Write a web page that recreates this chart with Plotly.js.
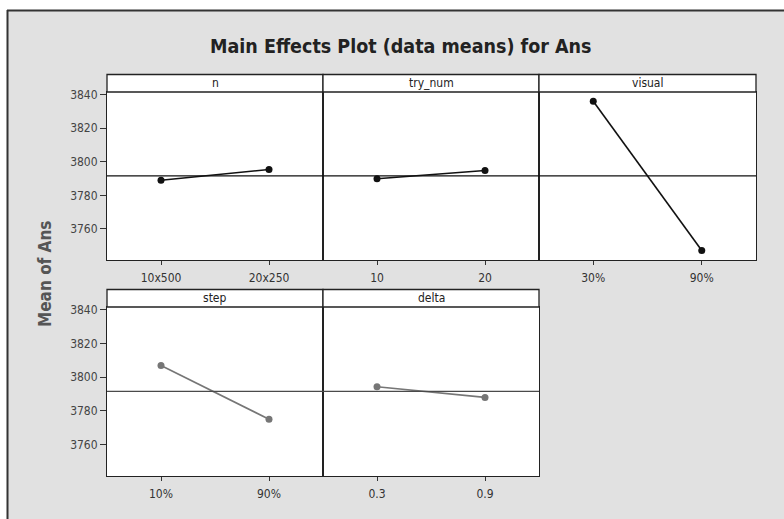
<!DOCTYPE html>
<html><head><meta charset="utf-8">
<script src="https://cdn.plot.ly/plotly-3.0.1.min.js"></script>
<style>html,body{margin:0;padding:0;background:#fff}#chart{width:784px;height:519px}</style>
</head><body><div id="chart"></div>
<script>
// ---- data ----
const chartTitle = 'Main Effects Plot (data means) for Ans';
const yTitle = 'Mean of Ans';
const factors = ['n', 'try_num', 'visual', 'step', 'delta'];
const levels = [['10x500', '20x250'], ['10', '20'], ['30%', '90%'], ['10%', '90%'], ['0.3', '0.9']];
const meanN = [3789.0, 3795.4];
const meanTryNum = [3789.9, 3794.8];
const meanVisual = [3836.0, 3747.1];
const meanStep = [3806.9, 3775.1];
const meanDelta = [3794.3, 3788.0];
const grandMean = 3791.6;
const yTicks = [3760, 3780, 3800, 3820, 3840];

const means = [meanN, meanTryNum, meanVisual, meanStep, meanDelta];

// ---- layout geometry (pixels) ----
const W = 784, H = 519;
const fx = p => p / W, fy = p => 1 - p / H;
const panels = [
  [107, 323, 92, 260], [323, 539, 92, 260], [539, 756, 92, 260],
  [107, 323, 307, 476], [323, 539, 307, 476]
];
const stripH = 17.5;
const yRange = [3741.5, 3841.5];
const tickFamily = 'DejaVu Sans Condensed, DejaVu Sans';

const traces = [];
const layout = {
  width: W, height: H,
  margin: {l: 0, r: 0, t: 0, b: 0},
  paper_bgcolor: '#e1e1e1',
  plot_bgcolor: '#ffffff',
  showlegend: false,
  font: {family: 'DejaVu Sans', color: '#333'},
  shapes: [],
  annotations: []
};

// scanned page edges
layout.shapes.push({type: 'rect', xref: 'paper', yref: 'paper', x0: 0, x1: 1, y0: fy(10), y1: 1, fillcolor: '#ffffff', line: {width: 0}});
layout.shapes.push({type: 'rect', xref: 'paper', yref: 'paper', x0: 0, x1: fx(7), y0: 0, y1: 1, fillcolor: '#ffffff', line: {width: 0}});
layout.shapes.push({type: 'line', xref: 'paper', yref: 'paper', x0: fx(7), x1: 1, y0: fy(10.5), y1: fy(10.5), line: {color: '#333', width: 2}});
layout.shapes.push({type: 'line', xref: 'paper', yref: 'paper', x0: fx(7.5), x1: fx(7.5), y0: 0, y1: fy(10), line: {color: '#333', width: 2}});

factors.forEach((f, i) => {
  const k = i + 1;
  const [x0, x1, y0, y1] = panels[i];
  const bottomRow = i >= 3;
  const col = bottomRow ? i - 3 : i;
  const lineColor = bottomRow ? '#767676' : '#111111';
  traces.push({
    type: 'scatter', mode: 'lines+markers',
    x: levels[i], y: means[i],
    xaxis: 'x' + k, yaxis: 'y' + k,
    line: {color: lineColor, width: 1.6},
    marker: {color: lineColor, size: 7, symbol: 'circle'},
    hoverinfo: 'skip'
  });
  layout['xaxis' + k] = {
    domain: [fx(x0), fx(x1)], anchor: 'y' + k,
    type: 'category', range: [-0.5, 1.5],
    showgrid: false, zeroline: false,
    showline: true, mirror: true, linecolor: '#222', linewidth: 1,
    ticks: 'outside', ticklen: 4, tickcolor: '#333',
    ticklabelstandoff: 3,
    tickfont: {size: 12, color: '#333', family: tickFamily},
    fixedrange: true
  };
  layout['yaxis' + k] = {
    domain: [fy(y1), fy(y0)], anchor: 'x' + k,
    range: yRange, tickvals: yTicks,
    showgrid: false, zeroline: false,
    showline: true, mirror: true, linecolor: '#222', linewidth: 1,
    ticks: col === 0 ? 'outside' : '', ticklen: 6, tickcolor: '#333',
    showticklabels: col === 0,
    tickfont: {size: 12, color: '#444', family: tickFamily},
    fixedrange: true
  };
  // grand mean reference line
  layout.shapes.push({
    type: 'line', xref: 'x' + k + ' domain', yref: 'y' + k,
    x0: 0, x1: 1, y0: grandMean, y1: grandMean,
    line: {color: bottomRow ? '#4a4a4a' : '#111', width: 1.2}
  });
  // strip
  layout.shapes.push({
    type: 'rect', xref: 'paper', yref: 'paper',
    x0: fx(x0), x1: fx(x1), y0: fy(y0), y1: fy(y0 - stripH),
    fillcolor: '#ffffff', line: {color: '#222', width: 1.3}
  });
  layout.annotations.push({
    xref: 'paper', yref: 'paper', x: fx((x0 + x1) / 2), y: fy(y0 - stripH / 2),
    text: f, showarrow: false, xanchor: 'center', yanchor: 'middle',
    font: {size: 12, color: '#222', family: tickFamily}
  });
});

layout.annotations.push({
  xref: 'paper', yref: 'paper', x: fx(401), y: fy(46),
  text: '<b>' + chartTitle + '</b>', showarrow: false,
  xanchor: 'center', yanchor: 'middle',
  font: {size: 19.5, color: '#222', family: tickFamily}
});
layout.annotations.push({
  xref: 'paper', yref: 'paper', x: fx(45), y: fy(274),
  text: '<b>' + yTitle + '</b>', showarrow: false, textangle: -90,
  xanchor: 'center', yanchor: 'middle',
  font: {size: 17, color: '#555', family: tickFamily}
});

Plotly.newPlot('chart', traces, layout, {displayModeBar: false, staticPlot: true});
</script></body></html>
